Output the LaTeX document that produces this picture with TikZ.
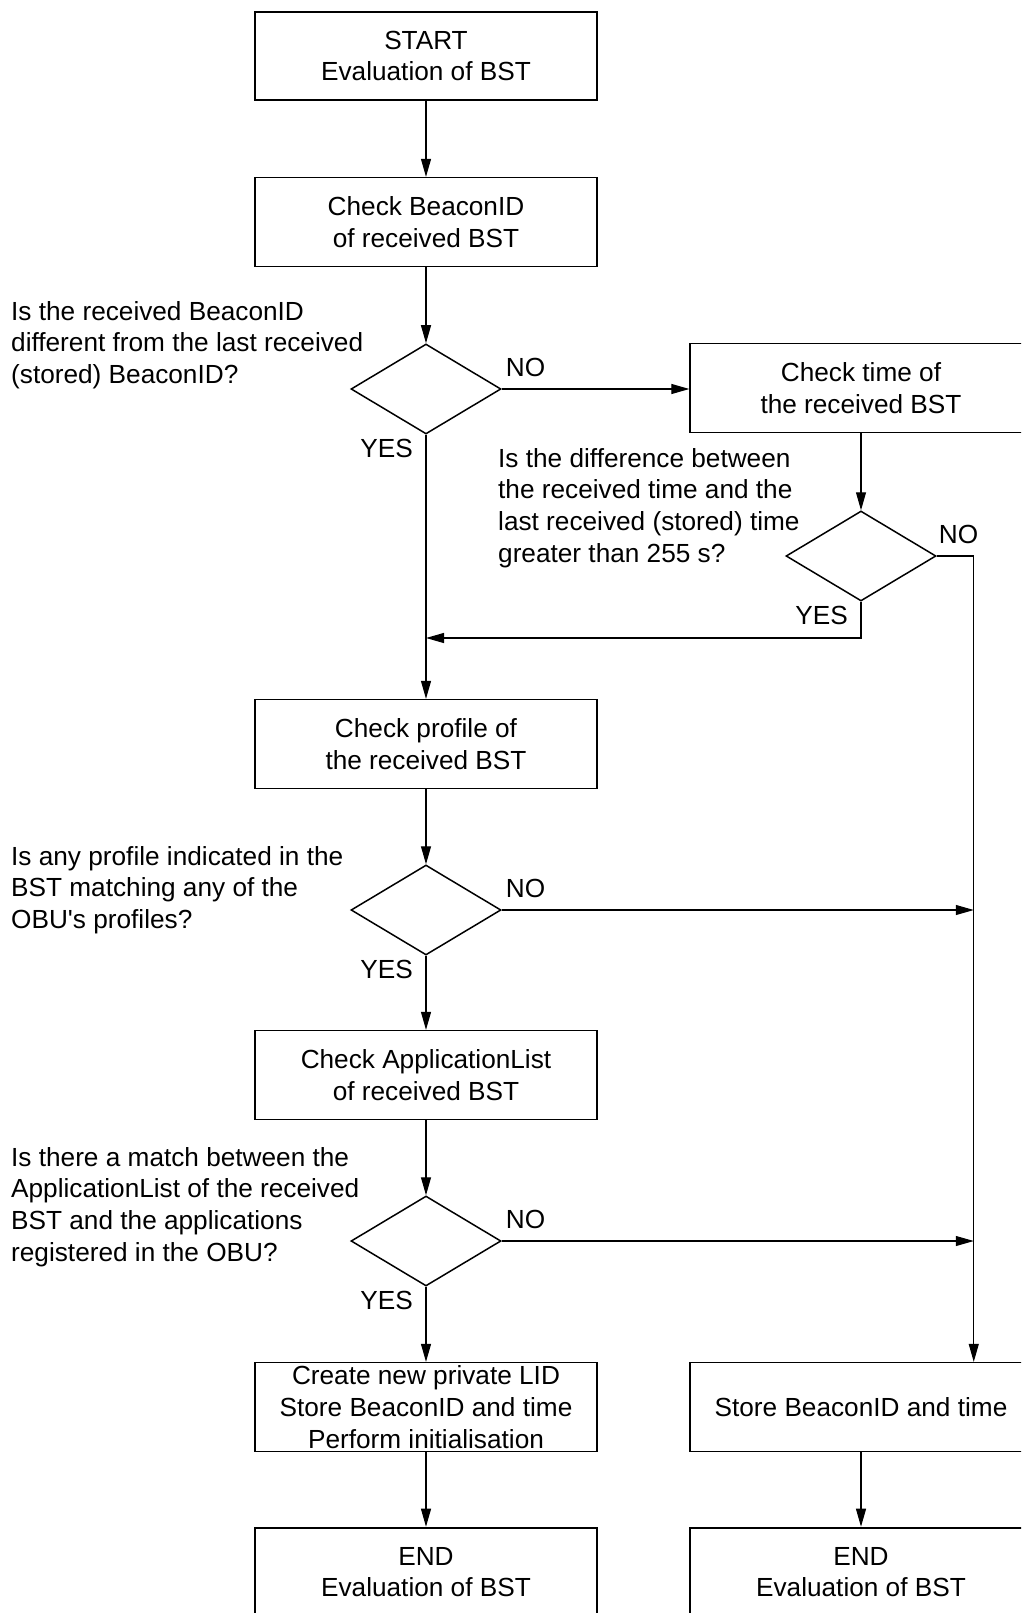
\documentclass[tikz,border=0pt]{standalone}
\usepackage{fontspec}
\setmainfont{Liberation Sans}[Ligatures=TeXOff]
\usetikzlibrary{shapes.geometric,arrows.meta,calc}
\begin{document}
\begin{tikzpicture}[x=1pt,y=-1pt,
  font=\fontsize{26.2}{31.7}\selectfont,
  every node/.style={inner sep=0pt},
  termbox/.style={draw, line width=2.6pt, minimum width=342pt, minimum height=88pt, align=center},
  procbox/.style={draw, line width=1.3pt, minimum width=342pt, minimum height=89pt, align=center},
  decision/.style={draw, diamond, line width=1.5pt, minimum width=150pt, minimum height=90pt},
  question/.style={anchor=west, align=left},
  flow/.style={line width=1.1pt, -{Triangle[length=18pt,width=10pt]}},
  link/.style={line width=1.1pt},
]
\clip (0,0) rectangle (1021,1613);

% main column
\node[termbox] (start)   at (426,56)   {START\\Evaluation of BST};
\node[procbox] (chkid)   at (426,222)  {Check BeaconID\\of received BST};
\node[decision] (d1)     at (426,389)  {};
\node[procbox] (chkprof) at (426,744)  {Check profile of\\the received BST};
\node[decision] (d3)     at (426,910)  {};
\node[procbox] (chkapp)  at (426,1075) {Check ApplicationList\\of received BST};
\node[decision] (d4)     at (426,1241) {};
\node[procbox] (create)  at (426,1407) {Create new private LID\\Store BeaconID and time\\Perform initialisation};
\node[termbox] (end1)    at (426,1572) {END\\Evaluation of BST};

% right column
\node[procbox] (chktime) at (861,388)  {Check time of\\the received BST};
\node[decision] (d2)     at (861,556)  {};
\node[procbox] (store)   at (861,1407) {Store BeaconID and time};
\node[termbox] (end2)    at (861,1572) {END\\Evaluation of BST};

% questions
\node[question] (q1) at (11,345)  {Is the received BeaconID\\different from the last received\\(stored) BeaconID?};
\node[question] (q2) at (498,508) {Is the difference between\\the received time and the\\last received (stored) time\\greater than 255 s?};
\node[question] (q3) at (11,890)  {Is any profile indicated in the\\BST matching any of the\\OBU's profiles?};
\node[question] (q4) at (11,1207) {Is there a match between the\\ApplicationList of the received\\BST and the applications\\registered in the OBU?};

% answer labels
\node[anchor=west] (no1)  at ($(d1.east)+(4,-22)$)   {NO};
\node[anchor=east] (yes1) at ($(d1.south)+(-13,14)$) {YES};
\node[anchor=west] (no2)  at ($(d2.east)+(2,-22)$)   {NO};
\node[anchor=east] (yes2) at ($(d2.south)+(-13,14)$) {YES};
\node[anchor=west] (no3)  at ($(d3.east)+(4,-22)$)   {NO};
\node[anchor=east] (yes3) at ($(d3.south)+(-13,14)$) {YES};
\node[anchor=west] (no4)  at ($(d4.east)+(4,-22)$)   {NO};
\node[anchor=east] (yes4) at ($(d4.south)+(-13,14)$) {YES};

% helper points
\coordinate (join) at (426,638);
\coordinate (rail) at ($(d2.east)+(37,0)$);

% connectors
\draw[flow] (start) -- (chkid);
\draw[flow] (chkid) -- (d1);
\draw[flow] (d1.east) -- (d1.east -| chktime.west);
\draw[flow] (chktime) -- (d2);
\draw[flow] (d1) -- (chkprof);
\draw[flow] (d2.south) |- (join);
\draw[flow] (d2.east) -- (rail) -- (rail |- store.north);
\draw[flow] (chkprof) -- (d3);
\draw[flow] (d3.east) -- (d3.east -| rail);
\draw[flow] (d3) -- (chkapp);
\draw[flow] (chkapp) -- (d4);
\draw[flow] (d4.east) -- (d4.east -| rail);
\draw[flow] (d4) -- (create);
\draw[flow] (create) -- (end1);
\draw[flow] (store) -- (end2);
\end{tikzpicture}
\end{document}
